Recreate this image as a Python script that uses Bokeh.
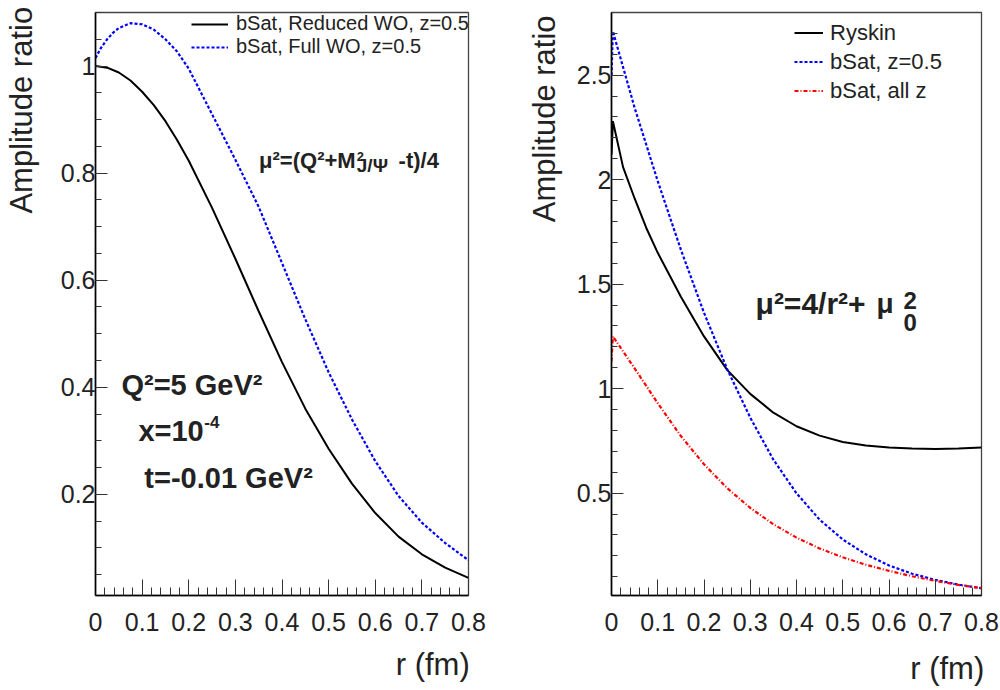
import math
from bokeh.plotting import figure
from bokeh.layouts import row
from bokeh.models import (FixedTicker, CustomJSTickFormatter, Label, Legend,
                          LegendItem, Range1d)
from bokeh.embed import file_html
from bokeh.resources import INLINE

# ---------------- data ----------------
r_left = [0, 0.025, 0.05, 0.075, 0.10, 0.125, 0.15, 0.175, 0.20, 0.25, 0.30,
          0.35, 0.40, 0.45, 0.50, 0.55, 0.60, 0.65, 0.70, 0.75, 0.80]
reduced_wo = [1.000, 0.997, 0.988, 0.973, 0.952, 0.927, 0.897, 0.862, 0.823,
              0.735, 0.640, 0.542, 0.447, 0.360, 0.285, 0.220, 0.165, 0.121,
              0.088, 0.063, 0.044]
r_left_full = [0, 0.0125, 0.025, 0.0375, 0.05, 0.075, 0.10, 0.125, 0.15, 0.175,
               0.20, 0.25, 0.30, 0.35, 0.40, 0.45, 0.50, 0.55, 0.60, 0.65,
               0.70, 0.75, 0.80]
full_wo = [1.015, 1.035, 1.050, 1.062, 1.071, 1.080, 1.078, 1.068, 1.050,
           1.027, 0.995, 0.910, 0.825, 0.737, 0.632, 0.527, 0.428, 0.340,
           0.262, 0.197, 0.147, 0.109, 0.077]

r_right = [0, 0.003, 0.025, 0.05, 0.075, 0.10, 0.15, 0.20, 0.25, 0.30, 0.35,
           0.40, 0.45, 0.50, 0.55, 0.60, 0.65, 0.70, 0.75, 0.80]
ryskin = [2.12, 2.28, 2.06, 1.91, 1.77, 1.65, 1.44, 1.25, 1.09, 0.975, 0.885,
          0.82, 0.775, 0.745, 0.728, 0.718, 0.713, 0.711, 0.713, 0.718]
r_right_b = [0, 0.003, 0.05, 0.10, 0.15, 0.20, 0.25, 0.30, 0.35, 0.40, 0.45,
             0.50, 0.55, 0.60, 0.65, 0.70, 0.75, 0.80]
bsat_z05 = [2.50, 2.71, 2.344, 1.993, 1.665, 1.363, 1.094, 0.861, 0.660, 0.499,
            0.373, 0.278, 0.207, 0.154, 0.114, 0.085, 0.062, 0.045]
bsat_allz = [1.13, 1.25, 1.097, 0.930, 0.773, 0.638, 0.524, 0.429, 0.351,
             0.287, 0.235, 0.193, 0.157, 0.128, 0.102, 0.080, 0.061, 0.045]

x_ticks = [0, 0.1, 0.2, 0.3, 0.4, 0.5, 0.6, 0.7, 0.8]
x_minor = [round(i * 0.02, 2) for i in range(41)]
yl_ticks = [0.2, 0.4, 0.6, 0.8, 1.0]
yl_minor = [round(i * 0.05, 2) for i in range(1, 23)]
yr_ticks = [0.5, 1.0, 1.5, 2.0, 2.5]
yr_minor = [round(i * 0.1, 1) for i in range(1, 28)]

x_title = "r (fm)"
y_title = "Amplitude ratio"

FONT = "Liberation Sans"
TXT = "#222222"
NBSP = "\u00a0"

fmt_code = "return String(Math.round(tick*1000)/1000);"


def style_axes(p, yt, ym, xs, ys, xpad, ypad):
    for ax in (p.xaxis[0], p.yaxis[0]):
        ax.axis_line_color = "black"
        ax.axis_line_width = 1.6
        ax.major_tick_line_color = "#333333"
        ax.minor_tick_line_color = "#333333"
        ax.major_tick_out = 0
        ax.minor_tick_out = 0
        ax.major_label_text_font = FONT
        ax.major_label_text_font_size = "25px"
        ax.major_label_text_color = TXT
        ax.formatter = CustomJSTickFormatter(code=fmt_code)
        ax.axis_label_text_font = FONT
        ax.axis_label_text_font_size = "31px"
        ax.axis_label_text_font_style = "normal"
        ax.axis_label_text_color = TXT
    p.xaxis[0].ticker = FixedTicker(ticks=x_ticks, minor_ticks=x_minor)
    p.xaxis[0].major_tick_in = 16
    p.xaxis[0].minor_tick_in = 8
    p.xaxis[0].major_label_standoff = 17
    p.yaxis[0].ticker = FixedTicker(ticks=yt, minor_ticks=ym)
    p.yaxis[0].major_tick_in = 12
    p.yaxis[0].minor_tick_in = 6
    p.yaxis[0].major_label_standoff = 0
    # axis titles pushed to the far end of each axis (ROOT style)
    p.xaxis[0].axis_label = NBSP * xpad + x_title
    p.xaxis[0].axis_label_standoff = xs
    p.yaxis[0].axis_label = NBSP * ypad + y_title
    p.yaxis[0].axis_label_standoff = ys
    p.xgrid.visible = False
    p.ygrid.visible = False
    p.outline_line_color = "#444444"
    p.outline_line_width = 1.3
    p.background_fill_color = "white"
    p.border_fill_color = "white"


def label(p, x, y, text, size, bold=False, align="left", color=TXT):
    p.add_layout(Label(x=x, y=y, text=text, text_font=FONT,
                       text_font_size=f"{size}px",
                       text_font_style="bold" if bold else "normal",
                       text_align=align, text_baseline="alphabetic",
                       text_color=color))


# ---------------- left panel ----------------
p1 = figure(width=500, height=690, output_backend="svg", toolbar_location=None,
            x_range=Range1d(0, 0.8), y_range=Range1d(0.011, 1.1),
            min_border_left=94, min_border_right=32, min_border_top=4,
            min_border_bottom=93)
style_axes(p1, yl_ticks, yl_minor, 13, 19, 35, 45)

l_red = p1.line(r_left, reduced_wo, line_color="black", line_width=2)
l_full = p1.line(r_left_full, full_wo, line_color="#0000ff", line_width=2.2,
                 line_dash="3 2")

leg1 = Legend(items=[LegendItem(label="bSat, Reduced WO, z=0.5", renderers=[l_red]),
                     LegendItem(label="bSat, Full WO, z=0.5", renderers=[l_full])],
              location=(96, 537), glyph_width=37, glyph_height=20,
              label_height=20, label_standoff=8, padding=0, spacing=0,
              margin=0, border_line_alpha=0, background_fill_alpha=0,
              label_text_font=FONT, label_text_font_size="20px",
              label_text_color=TXT)
p1.add_layout(leg1)

# annotations (data units)
label(p1, 0.3508, 0.8228, "μ²=(Q²+M", 22, bold=True)
label(p1, 0.5604, 0.8319, "2", 13, bold=True)
label(p1, 0.5604, 0.8148, "J/Ψ", 19, bold=True)
label(p1, 0.6500, 0.8228, "-t)/4", 22, bold=True)
label(p1, 0.0556, 0.4040, "Q²=5 GeV²", 29, bold=True)
label(p1, 0.0920, 0.3177, "x=10", 29, bold=True)
label(p1, 0.2332, 0.3360, "-4", 17, bold=True)
label(p1, 0.1048, 0.2314, "t=-0.01 GeV²", 29, bold=True)

# ---------------- right panel ----------------
p2 = figure(width=500, height=690, output_backend="svg", toolbar_location=None,
            x_range=Range1d(0, 0.8), y_range=Range1d(0.01, 2.8),
            min_border_left=111, min_border_right=19, min_border_top=12,
            min_border_bottom=95)
style_axes(p2, yr_ticks, yr_minor, 17, 12, 35, 43)

l_rys = p2.line(r_right, ryskin, line_color="black", line_width=2)
l_z05 = p2.line(r_right_b, bsat_z05, line_color="#0000ff", line_width=2.2,
                line_dash="3 2")
l_allz = p2.line(r_right_b, bsat_allz, line_color="#ff0000", line_width=2.2,
                 line_dash="4 2 1 2")

leg2 = Legend(items=[LegendItem(label="Ryskin", renderers=[l_rys]),
                     LegendItem(label="bSat, z=0.5", renderers=[l_z05]),
                     LegendItem(label="bSat, all z", renderers=[l_allz])],
              location=(183, 490), glyph_width=29, glyph_height=29,
              label_height=29, label_standoff=7, padding=0, spacing=0,
              margin=0, border_line_alpha=0, background_fill_alpha=0,
              label_text_font=FONT, label_text_font_size="22px",
              label_text_color=TXT)
p2.add_layout(leg2)

label(p2, 0.3114, 1.4074, "μ²=4/r²+", 30, bold=True)
label(p2, 0.5730, 1.4074, "μ", 28, bold=True)
label(p2, 0.6314, 1.4218, "2", 24, bold=True)
label(p2, 0.6314, 1.3165, "0", 24, bold=True)

layout = row(p1, p2, spacing=0)
open("out.html", "w").write(file_html(layout, INLINE))
